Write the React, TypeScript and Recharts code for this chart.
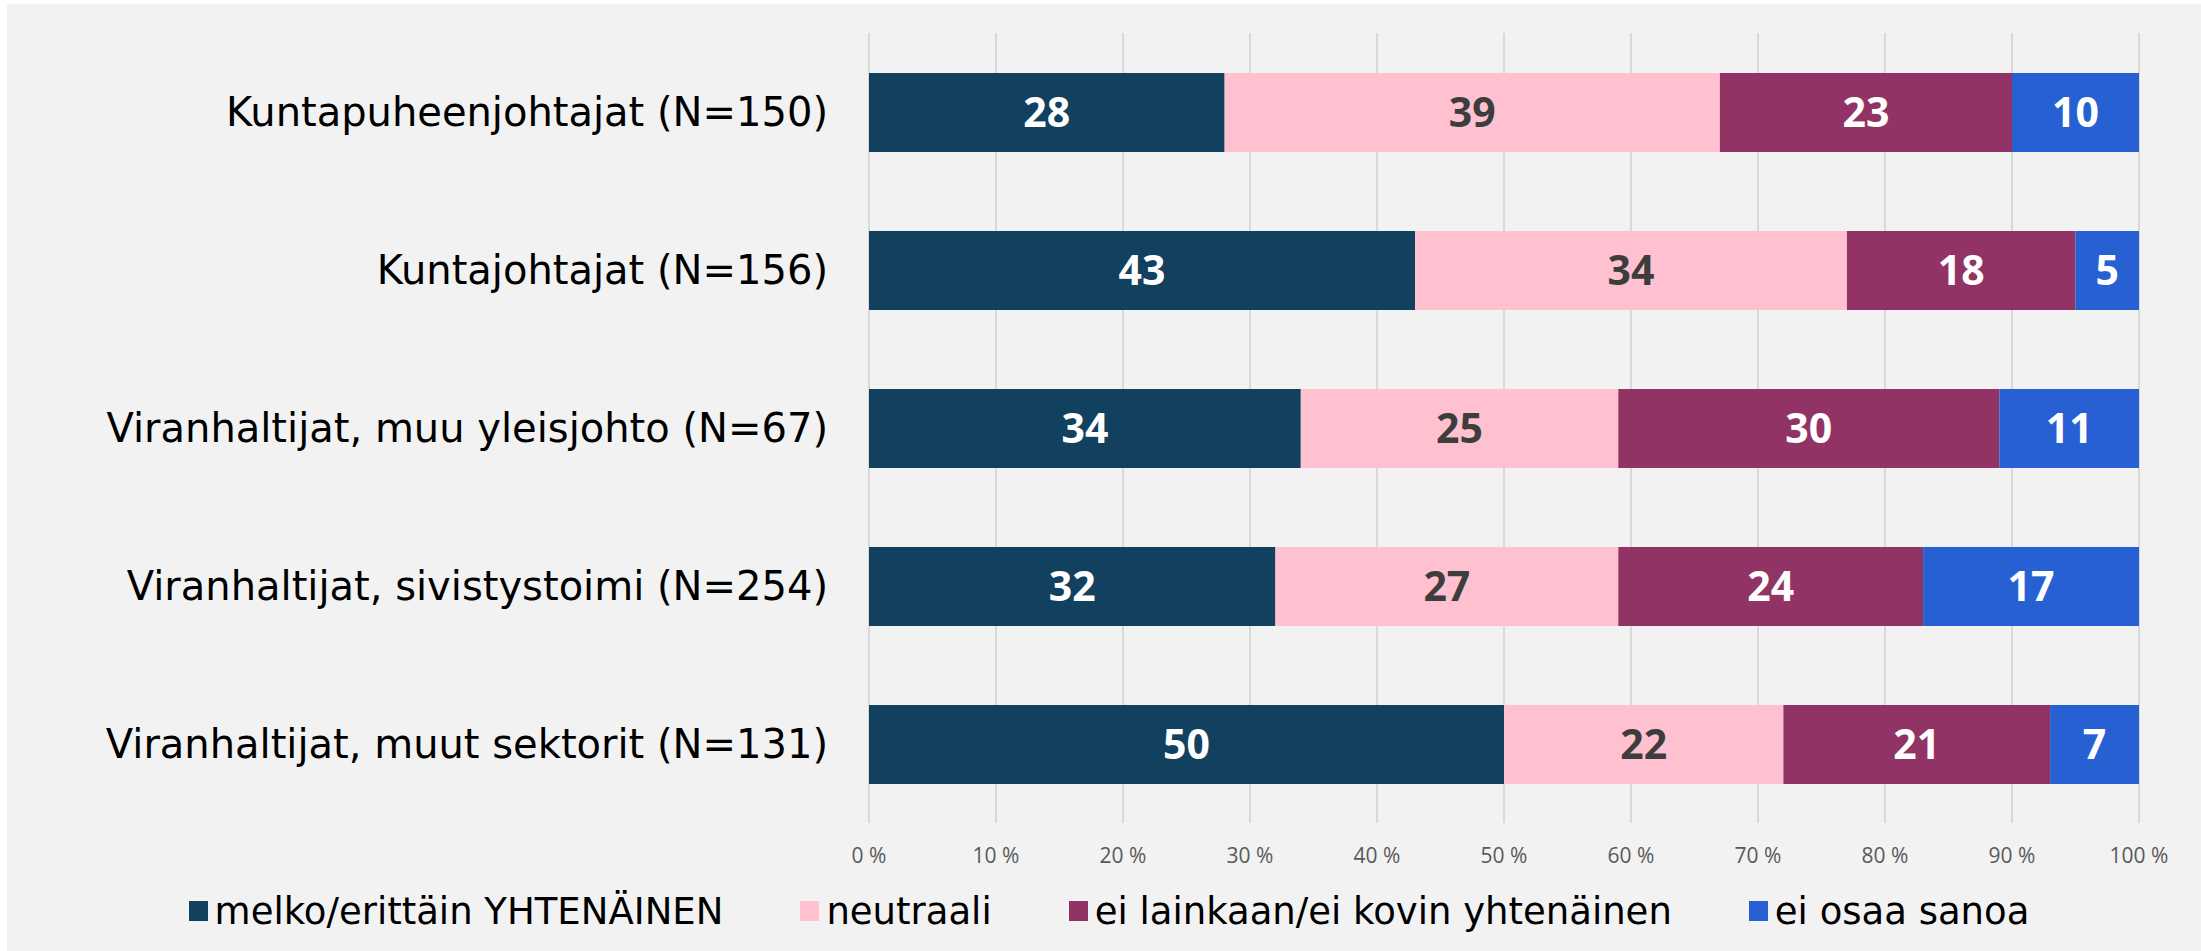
import React from 'react';
import { BarChart, Bar, XAxis, YAxis, CartesianGrid, Legend, LabelList } from 'recharts';

const categories = [
  'Kuntapuheenjohtajat (N=150)',
  'Kuntajohtajat (N=156)',
  'Viranhaltijat, muu yleisjohto (N=67)',
  'Viranhaltijat, sivistystoimi (N=254)',
  'Viranhaltijat, muut sektorit (N=131)',
];

const seriesNames = [
  'melko/erittäin YHTENÄINEN',
  'neutraali',
  'ei lainkaan/ei kovin yhtenäinen',
  'ei osaa sanoa',
];

const yhtenainen = [28, 43, 34, 32, 50];
const neutraali = [39, 34, 25, 27, 22];
const eiYhtenainen = [23, 18, 30, 24, 21];
const eiOsaa = [10, 5, 11, 17, 7];

const xTicks = [0, 10, 20, 30, 40, 50, 60, 70, 80, 90, 100];

const COLORS = ['#12405f', '#ffc0cf', '#923366', '#2660d2'];
const LABEL_COLORS = ['#ffffff', '#3d3d3d', '#ffffff', '#ffffff'];

const data = categories.map((name, i) => ({
  name,
  a: yhtenainen[i],
  b: neutraali[i],
  c: eiYhtenainen[i],
  d: eiOsaa[i],
}));

const FONT = '"Open Sans", sans-serif';
const TEXT_FONT = '"DejaVu Sans", sans-serif';

const renderLegend = () => (
  <div
    style={{
      height: 50,
      paddingLeft: 72,
      display: 'flex',
      justifyContent: 'center',
      alignItems: 'center',
      fontFamily: TEXT_FONT,
      fontSize: 37,
      color: '#000',
    }}
  >
    {seriesNames.map((s, i) => (
      <div key={s} style={{ display: 'flex', alignItems: 'center', marginRight: i < 3 ? 77 : 0 }}>
        <span style={{ width: 19, height: 20, background: COLORS[i], marginRight: 7, display: 'inline-block' }} />
        <span>{s}</span>
      </div>
    ))}
  </div>
);

const labelStyle = { fontSize: 41, fontWeight: 700, fontFamily: FONT };

const App: React.FC = () => {
  return (
    <div style={{ position: 'absolute', left: 7, top: 4, width: 2194, height: 947, background: '#f2f2f2' }}>
      <BarChart
        width={2194}
        height={947}
        data={data}
        layout="vertical"
        margin={{ top: 29, right: 62, bottom: 15, left: 0 }}
        barSize={79}
      >
        <CartesianGrid horizontal={false} stroke="#d9d9d9" strokeWidth={2} />
        <XAxis
          type="number"
          domain={[0, 100]}
          ticks={xTicks}
          tickFormatter={(v) => `${v} %`}
          axisLine={false}
          tickLine={false}
          tickMargin={19}
          height={63}
          tick={{ fill: '#595959', fontSize: 21, fontFamily: FONT }}
        />
        <YAxis
          type="category"
          dataKey="name"
          width={862}
          axisLine={false}
          tickLine={false}
          tickMargin={35}
          tick={{ fill: '#000000', fontSize: 40, fontFamily: TEXT_FONT }}
        />
        <Legend verticalAlign="bottom" content={renderLegend} />
        <Bar dataKey="a" name={seriesNames[0]} stackId="s" fill={COLORS[0]} isAnimationActive={false}>
          <LabelList dataKey="a" position="center" fill={LABEL_COLORS[0]} style={labelStyle} />
        </Bar>
        <Bar dataKey="b" name={seriesNames[1]} stackId="s" fill={COLORS[1]} isAnimationActive={false}>
          <LabelList dataKey="b" position="center" fill={LABEL_COLORS[1]} style={labelStyle} />
        </Bar>
        <Bar dataKey="c" name={seriesNames[2]} stackId="s" fill={COLORS[2]} isAnimationActive={false}>
          <LabelList dataKey="c" position="center" fill={LABEL_COLORS[2]} style={labelStyle} />
        </Bar>
        <Bar dataKey="d" name={seriesNames[3]} stackId="s" fill={COLORS[3]} isAnimationActive={false}>
          <LabelList dataKey="d" position="center" fill={LABEL_COLORS[3]} style={labelStyle} />
        </Bar>
      </BarChart>
    </div>
  );
};

export default App;
